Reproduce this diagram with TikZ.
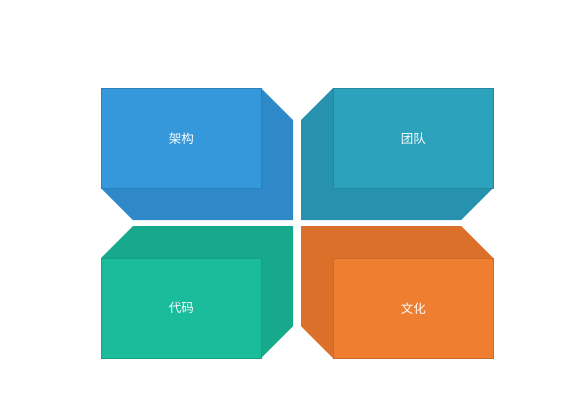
\documentclass[tikz,border=0pt]{standalone}
\usepackage{fontspec}
\newfontfamily\cjk{Noto Sans CJK SC}
\begin{document}
\begin{tikzpicture}[x=1pt,y=-1pt,
  front/.style={draw=#1!85!black, line width=0.6pt, minimum width=160pt, minimum height=100pt, inner sep=0pt, font=\cjk\fontsize{12.5}{14}\selectfont, text=white, anchor=north west},
  side/.style={fill=#1}]
\definecolor{bluef}{HTML}{3598DB}
\definecolor{blues}{HTML}{2F88C8}
\definecolor{tealf}{HTML}{2CA2BC}
\definecolor{teals}{HTML}{2792AD}
\definecolor{greenf}{HTML}{1ABC9C}
\definecolor{greens}{HTML}{17A98B}
\definecolor{orangef}{HTML}{EF7E31}
\definecolor{oranges}{HTML}{DA702A}
\useasboundingbox (0,0) rectangle (561,408);
% sides
\fill[blues] (261,88) -- (293,120) -- (293,220) -- (133,220) -- (101,188) -- cycle;
\fill[teals] (333,88) -- (301,120) -- (301,220) -- (461,220) -- (493,188) -- cycle;
\fill[greens] (101,258) -- (133,226) -- (293,226) -- (293,326) -- (261,358) -- cycle;
\fill[oranges] (493,258) -- (461,226) -- (301,226) -- (301,326) -- (333,358) -- cycle;
% fronts
\node[front=bluef, fill=bluef] (jg) at (101,88) {架构};
\node[front=tealf, fill=tealf] (td) at (333,88) {团队};
\node[front=greenf, fill=greenf] (dm) at (101,258) {代码};
\node[front=orangef, fill=orangef] (wh) at (333,258) {文化};
\end{tikzpicture}
\end{document}
